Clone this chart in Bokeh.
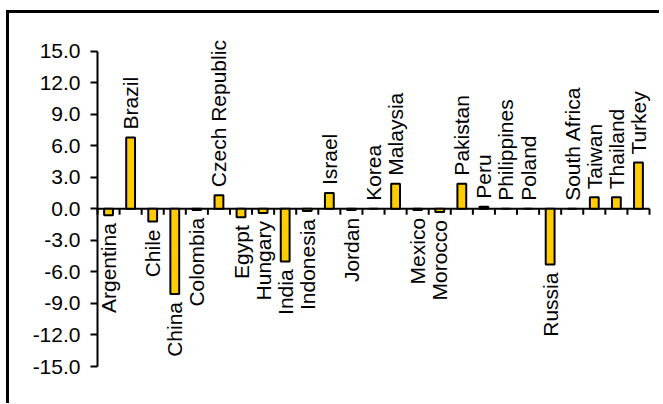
import math

from bokeh.core.properties import value
from bokeh.embed import file_html
from bokeh.models import (ColumnDataSource, FixedTicker, LinearAxis,
                          NumeralTickFormatter, Range1d)
from bokeh.plotting import figure
from bokeh.resources import INLINE

# Countries along the category axis and their values
countries = [
    "Argentina", "Brazil", "Chile", "China", "Colombia", "Czech Republic",
    "Egypt", "Hungary", "India", "Indonesia", "Israel", "Jordan", "Korea",
    "Malaysia", "Mexico", "Morocco", "Pakistan", "Peru", "Philippines",
    "Poland", "Russia", "South Africa", "Taiwan", "Thailand", "Turkey",
]
values = [
    -0.6, 6.8, -1.2, -8.1, -0.1, 1.3,
    -0.8, -0.4, -5.0, -0.2, 1.5, -0.1, 0.0,
    2.4, -0.1, -0.3, 2.4, 0.2, 0.0,
    0.0, -5.3, 0.0, 1.1, 1.1, 4.4,
]
y_ticks = [-15, -12, -9, -6, -3, 0, 3, 6, 9, 12, 15]

FONT = "Liberation Sans"
FONT_SIZE = "21px"
LABEL_GAP = 8  # px between a bar's end and its rotated name
TICK_LEN = 6   # px, category ticks hanging below the zero line

W, H = 663, 404
# frame edges in canvas pixels; the chart border runs along the left and top
FRAME_L, FRAME_T, FRAME_R, FRAME_B = 7, 11, 657, 401
BORDER_W = 3
AXIS_L, AXIS_R = 97, 649         # pixel span of the category axis
AXIS_T, AXIS_B = 50.7, 366.0     # pixel span of the value axis

n = len(countries)
xs = [i + 0.5 for i in range(n)]

# ranges chosen so the axes land on the pixel spans above
px_x = (AXIS_R - AXIS_L) / n
px_y = (AXIS_B - AXIS_T) / (y_ticks[-1] - y_ticks[0])
x_range = Range1d(-(AXIS_L - FRAME_L) / px_x, n + (FRAME_R - AXIS_R) / px_x)
y_range = Range1d(y_ticks[0] - (FRAME_B - AXIS_B) / px_y,
                  y_ticks[-1] + (AXIS_T - FRAME_T) / px_y)

p = figure(
    width=W, height=H, x_range=x_range, y_range=y_range,
    output_backend="svg", toolbar_location=None,
    x_axis_location=None, y_axis_location=None,
    min_border_left=FRAME_L, min_border_right=W - FRAME_R,
    min_border_top=FRAME_T, min_border_bottom=H - FRAME_B,
)
p.xgrid.visible = False
p.ygrid.visible = False
p.outline_line_color = None
p.background_fill_color = "white"
p.border_fill_color = "white"

# value axis, pinned to the left edge of the first category
yax = LinearAxis(
    fixed_location=0, bounds=(y_ticks[0], y_ticks[-1]),
    ticker=FixedTicker(ticks=y_ticks),
    formatter=NumeralTickFormatter(format="0.0"),
    major_tick_out=7, major_tick_in=0, minor_tick_out=0, minor_tick_in=0,
    axis_line_width=2, major_tick_line_width=2,
    major_label_standoff=10,
    major_label_text_font=FONT, major_label_text_font_size=FONT_SIZE,
    major_label_text_color="black",
)
p.add_layout(yax, "left")

# chart border: bare axis lines along the frame's left and top edges
for side in ("left", "above"):
    p.add_layout(LinearAxis(
        ticker=FixedTicker(ticks=[]),
        major_tick_out=0, major_tick_in=0, minor_tick_out=0, minor_tick_in=0,
        major_label_standoff=0,
        axis_line_color="black", axis_line_width=BORDER_W,
        axis_line_cap="square",
    ), side)

# category axis along zero, with ticks between categories
bounds = list(range(n + 1))
p.segment(x0=[0], y0=[0], x1=[n], y1=[0], line_color="black", line_width=2)
p.segment(x0=bounds, y0=[0] * len(bounds), x1=bounds,
          y1=[-TICK_LEN / px_y] * len(bounds), line_color="black", line_width=2)

src = ColumnDataSource(dict(x=xs, top=values, name=countries))
p.vbar(x="x", top="top", bottom=0, width=0.4, source=src,
       fill_color="#FFCC00", line_color="black", line_width=2)

pos = [i for i, v in enumerate(values) if v >= 0]
neg = [i for i, v in enumerate(values) if v < 0]
pos_src = ColumnDataSource(dict(x=[xs[i] for i in pos], y=[values[i] for i in pos],
                                text=[countries[i] for i in pos]))
neg_src = ColumnDataSource(dict(x=[xs[i] for i in neg], y=[values[i] for i in neg],
                                text=[countries[i] for i in neg]))

p.text(x="x", y="y", text="text", source=pos_src, angle=math.pi / 2,
       y_offset=-LABEL_GAP, text_align="left", text_baseline="middle",
       text_font=value(FONT), text_font_size=FONT_SIZE, text_color="black")
p.text(x="x", y="y", text="text", source=neg_src, angle=math.pi / 2,
       y_offset=LABEL_GAP, text_align="right", text_baseline="middle",
       text_font=value(FONT), text_font_size=FONT_SIZE, text_color="black")

open("out.html", "w").write(file_html(p, INLINE))
